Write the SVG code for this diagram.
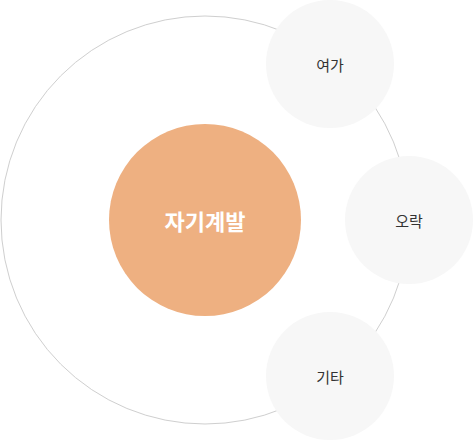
<svg xmlns="http://www.w3.org/2000/svg" width="473" height="440" viewBox="0 0 473 440">
<style>
.ring{fill:none;stroke:#cfcfcf;stroke-width:1}
.sat{fill:#f7f7f7}
.core{fill:#eeb081}
.lbl{font-family:"Noto Sans CJK KR","Noto Sans",sans-serif;font-size:15px;fill:#333;text-anchor:middle;dominant-baseline:central}
.main{font-family:"Noto Sans CJK KR","Noto Sans",sans-serif;font-size:22px;font-weight:bold;fill:#fff;text-anchor:middle;dominant-baseline:central}
</style>
<g id="connectors">
<circle class="ring" cx="205" cy="220" r="204"/>
</g>
<g id="core">
<circle class="core" cx="205" cy="220" r="96"/>
<text class="main" x="205" y="220">자기계발</text>
</g>
<g id="leisure">
<circle class="sat" cx="330" cy="64" r="64"/>
<text class="lbl" x="330" y="64">여가</text>
</g>
<g id="entertainment">
<circle class="sat" cx="409" cy="220" r="64"/>
<text class="lbl" x="409" y="220">오락</text>
</g>
<g id="etc">
<circle class="sat" cx="330" cy="376" r="64"/>
<text class="lbl" x="330" y="376">기타</text>
</g>
</svg>
